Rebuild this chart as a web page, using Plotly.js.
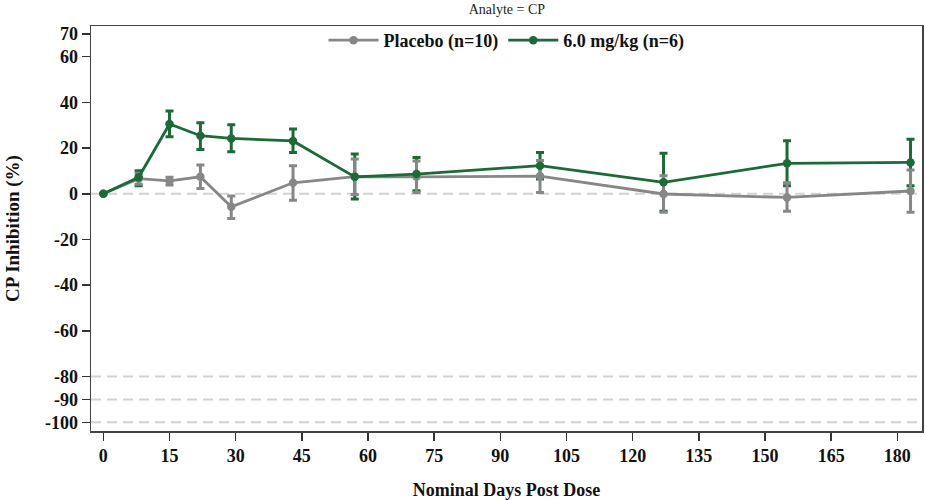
<!DOCTYPE html>
<html>
<head>
<meta charset="utf-8">
<script src="https://cdn.plot.ly/plotly-3.0.1.min.js"></script>
<style>html,body{margin:0;padding:0;background:#fff;}#chart{width:925px;height:500px;}</style>
</head>
<body>
<div id="chart"></div>
<script>
// Nominal days post dose
const days = [0, 8, 15, 22, 29, 43, 57, 71, 99, 127, 155, 183];

// Placebo (n=10): mean and error bar ends (%)
const placeboMean  = [0, 6.6, 5.6, 7.4, -5.7, 4.8, 7.5, 7.4, 7.7, -0.1, -1.6, 1.2];
const placeboUpper = [0, 9.0, 7.2, 12.6, -1.0, 12.3, 15.2, 14.3, 14.5, 7.9, 4.8, 10.4];
const placeboLower = [0, 4.2, 3.8, 2.3, -10.8, -2.8, -0.3, 0.5, 0.6, -8.1, -7.6, -8.1];

// 6.0 mg/kg (n=6): mean and error bar ends (%)
const doseMean  = [0, 7.2, 30.5, 25.4, 24.2, 23.1, 7.4, 8.6, 12.3, 5.0, 13.3, 13.7];
const doseUpper = [0, 10.1, 36.2, 31.1, 30.2, 28.3, 17.4, 15.9, 18.1, 17.7, 23.2, 23.8];
const doseLower = [0, 3.5, 24.9, 19.4, 18.4, 18.1, -2.3, 1.3, 6.5, -7.6, 3.5, 3.5];

// Reference lines and ticks
const refLines = [0, -80, -90, -100];
const yTicks = [70, 60, 40, 20, 0, -20, -40, -60, -80, -90, -100];
const xTicks = [0, 15, 30, 45, 60, 75, 90, 105, 120, 135, 150, 165, 180];

const labels = ['Placebo (n=10)', '6.0 mg/kg (n=6)'];
const gray = '#878787';
const green = '#1b6b36';

function plus(up, m) { return up.map((u, i) => u - m[i]); }
function minus(lo, m) { return m.map((v, i) => v - lo[i]); }

const serif = 'Liberation Serif, Times New Roman, serif';

const traces = [
  {
    x: days, y: doseMean, type: 'scatter', mode: 'markers',
    marker: {size: 1, color: 'rgba(0,0,0,0)'},
    showlegend: false, hoverinfo: 'skip',
    error_y: {type: 'data', symmetric: false, array: plus(doseUpper, doseMean),
              arrayminus: minus(doseLower, doseMean), color: green, thickness: 3, width: 4}
  },
  {
    x: days, y: placeboMean, type: 'scatter', mode: 'lines+markers', name: labels[0],
    line: {color: gray, width: 2.8},
    marker: {color: gray, size: 8.5, symbol: 'circle'},
    error_y: {type: 'data', symmetric: false, array: plus(placeboUpper, placeboMean),
              arrayminus: minus(placeboLower, placeboMean), color: gray, thickness: 3, width: 4}
  },
  {
    x: days, y: doseMean, type: 'scatter', mode: 'lines+markers', name: labels[1],
    line: {color: green, width: 2.8},
    marker: {color: green, size: 8.5, symbol: 'circle'}
  }
];

const shapes = refLines.map(v => ({
  type: 'line', xref: 'paper', x0: 0, x1: 1, yref: 'y', y0: v, y1: v,
  line: {color: '#d3d3d3', width: 2, dash: '10px,6px'}, layer: 'below'
}));

const layout = {
  width: 925, height: 500,
  margin: {l: 91, r: 3, t: 26, b: 69},
  paper_bgcolor: '#fff', plot_bgcolor: '#fff',
  font: {family: serif, color: '#111'},
  title: {text: 'Analyte = CP', font: {family: serif, size: 14, color: '#222'},
          x: 0.548, xanchor: 'center', y: 0.981, yanchor: 'middle'},
  showlegend: true,
  legend: {orientation: 'h', x: 0.5, xanchor: 'center', y: 1.01, yanchor: 'top',
           font: {family: serif, size: 18, weight: 'bold', color: '#111'},
           bgcolor: 'rgba(0,0,0,0)', itemwidth: 50, tracegroupgap: 0},
  xaxis: {
    range: [-2.8, 185.6], tickvals: xTicks, ticktext: xTicks.map(String),
    ticks: 'outside', ticklen: 8, tickwidth: 1.5, tickcolor: '#333',
    showline: true, linecolor: '#444', linewidth: 1.5, mirror: true,
    showgrid: false, zeroline: false,
    tickfont: {family: serif, size: 18, weight: 'bold', color: '#111'},
    title: {text: 'Nominal Days Post Dose', font: {family: serif, size: 18, weight: 'bold', color: '#111'}, standoff: 18}
  },
  yaxis: {
    range: [-103.8, 73.4], tickvals: yTicks, ticktext: yTicks.map(String),
    ticks: 'outside', ticklen: 8, tickwidth: 1.5, tickcolor: '#333',
    showline: true, linecolor: '#444', linewidth: 1.5, mirror: true,
    showgrid: false, zeroline: false,
    tickfont: {family: serif, size: 18, weight: 'bold', color: '#111'},
    title: {text: 'CP Inhibition (%)', font: {family: serif, size: 19, weight: 'bold', color: '#111'}, standoff: 20}
  },
  shapes: shapes
};

Plotly.newPlot('chart', traces, layout, {displayModeBar: false, staticPlot: true});
</script>
</body>
</html>
